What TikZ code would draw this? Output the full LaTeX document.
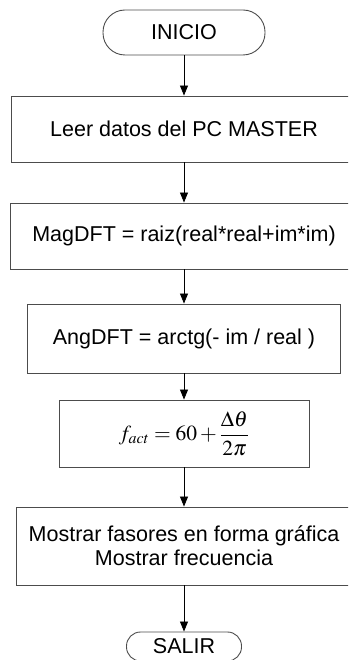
\documentclass[tikz,border=0pt]{standalone}
\usepackage{mathptmx}
\usepackage[no-math]{fontspec}
\setmainfont{Liberation Sans}
\usetikzlibrary{arrows.meta}
\begin{document}
\begin{tikzpicture}[x=1pt,y=-1pt,
  lbl/.style={font=\fontsize{21.5}{24}\selectfont, text=black},
  stepbox/.style={lbl, draw=black!70, line width=0.9pt, rectangle, inner sep=0pt, align=center},
  term/.style={lbl, draw=black!70, line width=0.9pt, rectangle, inner sep=0pt},
  flow/.style={draw=black, line width=0.8pt, -{Triangle[length=10pt,width=8pt]}}]
\useasboundingbox (0,0) rectangle (348,660);
\clip (0,0) rectangle (348,660);
\node[term, rounded corners=22pt, minimum width=162pt, minimum height=45pt] (ini) at (184,32.5) {INICIO};
\node[stepbox, minimum width=346pt, minimum height=66pt] (b1) at (184,129) {Leer datos del PC MASTER};
\node[stepbox, minimum width=348pt, minimum height=66pt] (b2) at (184,236) {MagDFT = raiz(real*real+im*im)};
\node[stepbox, minimum width=313pt, minimum height=69pt] (b3) at (184,338.5) {AngDFT = arctg(- im / real )};
\node[stepbox, minimum width=250pt, minimum height=67pt] (b4) at (184,433.5) {$\displaystyle f_{act} = 60 + \frac{\Delta\theta}{2\pi}$};
\node[stepbox, minimum width=336pt, minimum height=78pt] (b5) at (184,546) {Mostrar fasores en forma gráfica\\Mostrar frecuencia};
\node[term, rounded corners=14pt, minimum width=115pt, minimum height=29pt] (sal) at (184,646.5) {SALIR};
\draw[flow] (ini) -- (b1);
\draw[flow] (b1) -- (b2);
\draw[flow] (b2) -- (b3);
\draw[flow] (b3) -- (b4);
\draw[flow] (b4) -- (b5);
\draw[flow] (b5) -- (sal);
\end{tikzpicture}
\end{document}
